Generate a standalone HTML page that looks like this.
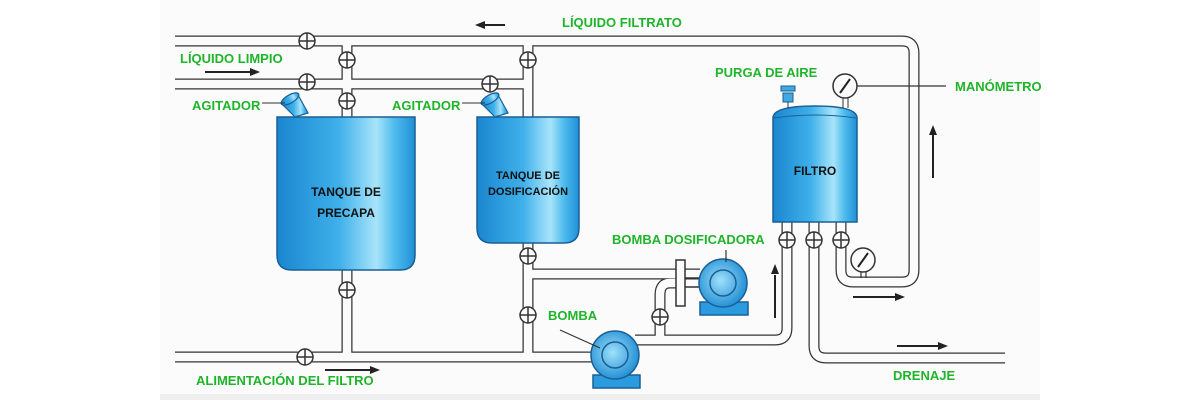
<!DOCTYPE html>
<html><head><meta charset="utf-8"><style>
html,body{margin:0;padding:0;background:#fff}
svg{display:block}
text{font-family:"Liberation Sans",sans-serif}
.g{fill:#1fb52a;font-weight:bold;font-size:13px}
.k{fill:#111;font-size:12px;font-weight:bold}
</style></head><body>
<svg width="1200" height="400" viewBox="0 0 1200 400" xmlns="http://www.w3.org/2000/svg">
<defs>
<linearGradient id="bl" x1="0" x2="1" y1="0" y2="0">
<stop offset="0" stop-color="#1a86cf"/><stop offset="0.45" stop-color="#3fb0ea"/><stop offset="0.72" stop-color="#a8e4fa"/><stop offset="0.85" stop-color="#4fbcee"/><stop offset="1" stop-color="#1f8fd6"/>
</linearGradient>
<radialGradient id="pr" cx="0.45" cy="0.45" r="0.6"><stop offset="0" stop-color="#9fe0fa"/><stop offset="1" stop-color="#1a8ad2"/></radialGradient>
</defs>
<rect x="160" y="0" width="880" height="396" fill="#fbfbfb"/>
<rect x="160" y="394" width="880" height="6" fill="#eeeeee"/>
<!-- pipes -->
<g fill="none" stroke-linejoin="round">
<g stroke="#333" stroke-width="11">
<path d="M175 41 H902 Q914 41 914 53 V270 Q914 282 902 282 H853 Q841 282 841 270 V220"/>
<path d="M175 84 H528"/>
<path d="M347 41 V118"/><path d="M528 41 V118"/>
<path d="M175 357 H600"/>
<path d="M347 268 V357"/><path d="M528 242 V357"/>
<path d="M528 274 H700"/>
<path d="M680 283 H670 Q660 283 660 295 V340"/>
<path d="M635 340 H775 Q787 340 787 328 V220"/>
<path d="M814 220 V346 Q814 358 826 358 H1005"/>
</g>
<g stroke="#fbfbfb" stroke-width="8.5">
<path d="M175 41 H902 Q914 41 914 53 V270 Q914 282 902 282 H853 Q841 282 841 270 V220"/>
<path d="M175 84 H528"/>
<path d="M347 41 V118"/><path d="M528 41 V118"/>
<path d="M175 357 H600"/>
<path d="M347 268 V357"/><path d="M528 242 V357"/>
<path d="M528 274 H700"/>
<path d="M680 283 H670 Q660 283 660 295 V340"/>
<path d="M635 340 H775 Q787 340 787 328 V220"/>
<path d="M814 220 V346 Q814 358 826 358 H1005"/>
</g>
</g>
<!-- valves -->
<g fill="#fbfbfb" stroke="#333" stroke-width="1.5">
<circle cx="307" cy="41" r="8"/><path d="M299 41 H315 M307 33 V49"/>
<circle cx="307" cy="82" r="8"/><path d="M299 82 H315 M307 74 V90"/>
<circle cx="347" cy="60" r="8"/><path d="M339 60 H355 M347 52 V68"/>
<circle cx="347" cy="101" r="8"/><path d="M339 101 H355 M347 93 V109"/>
<circle cx="528" cy="60" r="8"/><path d="M520 60 H536 M528 52 V68"/>
<circle cx="490" cy="84" r="8"/><path d="M482 84 H498 M490 76 V92"/>
<circle cx="347" cy="290" r="8"/><path d="M339 290 H355 M347 282 V298"/>
<circle cx="305" cy="357" r="8"/><path d="M297 357 H313 M305 349 V365"/>
<circle cx="528" cy="256" r="8"/><path d="M520 256 H536 M528 248 V264"/>
<circle cx="528" cy="315" r="8"/><path d="M520 315 H536 M528 307 V323"/>
<circle cx="660" cy="317" r="8"/><path d="M652 317 H668 M660 309 V325"/>
<circle cx="787" cy="240" r="8"/><path d="M779 240 H795 M787 232 V248"/>
<circle cx="814" cy="240" r="8"/><path d="M806 240 H822 M814 232 V248"/>
<circle cx="841" cy="240" r="8"/><path d="M833 240 H849 M841 232 V248"/>
</g>
<!-- tanks -->
<path d="M277 117 H415 V255 Q415 270 400 270 H292 Q277 270 277 255 Z" fill="url(#bl)" stroke="#1a5f95" stroke-width="1.5"/>
<path d="M477 117 H579 V228 Q579 243 564 243 H492 Q477 243 477 228 Z" fill="url(#bl)" stroke="#1a5f95" stroke-width="1.5"/>
<g fill="url(#bl)" stroke="#1a5f95" stroke-width="1.2">
<path d="M282 104 L298 95 L308 113 L295 117 Z"/><ellipse cx="290" cy="99" rx="10" ry="4" transform="rotate(-30 290 99)"/>
<path d="M482 104 L498 95 L508 113 L495 117 Z"/><ellipse cx="490" cy="99" rx="10" ry="4" transform="rotate(-30 490 99)"/>
</g>
<path d="M262 103 H285 M462 103 H485" stroke="#333" stroke-width="1"/>
<!-- filter -->
<path d="M773 118 Q773 106 815 106 Q857 106 857 118 V222 H773 Z" fill="url(#bl)" stroke="#1a5f95" stroke-width="1.5"/>
<path d="M774 118 Q815 112 856 118" stroke="#1a5f95" fill="none"/>
<rect x="783" y="93" width="10" height="9" fill="#3fa9e0" stroke="#1a5f95"/>
<rect x="781" y="86" width="14" height="5" fill="#3fa9e0" stroke="#1a5f95"/>
<path d="M788 102 V108 M843 97 V108 M848 97 V108" stroke="#333"/>
<g fill="#fbfbfb" stroke="#333" stroke-width="1.5">
<circle cx="845" cy="86" r="12"/><circle cx="863" cy="260" r="12"/></g>
<path d="M840 93 L850 79 M858 267 L868 253" stroke="#222" stroke-width="2"/>
<path d="M857 86 H946 M861 272 V278 M866 272 V278" stroke="#333" stroke-width="1.2"/>
<!-- pumps -->
<rect x="676" y="260" width="9" height="46" fill="#fbfbfb" stroke="#333" stroke-width="1.5"/>
<path d="M685 278 H700 M685 287 H700" stroke="#333" stroke-width="1.5"/>
<g stroke="#1a5f95" stroke-width="1.5">
<rect x="700" y="302" width="48" height="13" fill="#2b9be0"/>
<circle cx="723" cy="283" r="24" fill="url(#pr)"/>
<circle cx="723" cy="283" r="13" fill="none"/>
<rect x="593" y="375" width="47" height="13" fill="#2b9be0"/>
<circle cx="615" cy="355" r="24" fill="url(#pr)"/>
<circle cx="615" cy="355" r="13" fill="none"/>
</g>
<path d="M726 250 V262 M560 330 L600 348" stroke="#333" stroke-width="1.2"/>
<!-- arrows -->
<g stroke="#222" stroke-width="2" fill="#222">
<path d="M483 25 H505"/><path d="M475 25 L485 21 V29 Z" stroke="none"/>
<path d="M205 72 H250"/><path d="M260 72 L250 68 V76 Z" stroke="none"/>
<path d="M325 370 H370"/><path d="M380 370 L370 366 V374 Z" stroke="none"/>
<path d="M933 135 V178"/><path d="M933 125 L929 135 H937 Z" stroke="none"/>
<path d="M775 275 V318"/><path d="M775 264 L771 274 H779 Z" stroke="none"/>
<path d="M853 297 H895"/><path d="M905 297 L895 293 V301 Z" stroke="none"/>
<path d="M897 346 H938"/><path d="M948 346 L938 342 V350 Z" stroke="none"/>
</g>
<!-- labels -->
<text class="g" x="562" y="27">LÍQUIDO FILTRATO</text>
<text class="g" x="180" y="63">LÍQUIDO LIMPIO</text>
<text class="g" x="192" y="110">AGITADOR</text>
<text class="g" x="392" y="110">AGITADOR</text>
<text class="g" x="715" y="77">PURGA DE AIRE</text>
<text class="g" x="955" y="91">MANÓMETRO</text>
<text class="g" x="612" y="244">BOMBA DOSIFICADORA</text>
<text class="g" x="548" y="320">BOMBA</text>
<text class="g" x="196" y="385">ALIMENTACIÓN DEL FILTRO</text>
<text class="g" x="893" y="380">DRENAJE</text>
<text class="k" x="346" y="196" text-anchor="middle">TANQUE DE</text>
<text class="k" x="346" y="217" text-anchor="middle">PRECAPA</text>
<text class="k" x="528" y="179" text-anchor="middle" style="font-size:11px">TANQUE DE</text>
<text class="k" x="528" y="195" text-anchor="middle" style="font-size:11px">DOSIFICACIÓN</text>
<text class="k" x="815" y="175" text-anchor="middle">FILTRO</text>
</svg>
</body></html>
